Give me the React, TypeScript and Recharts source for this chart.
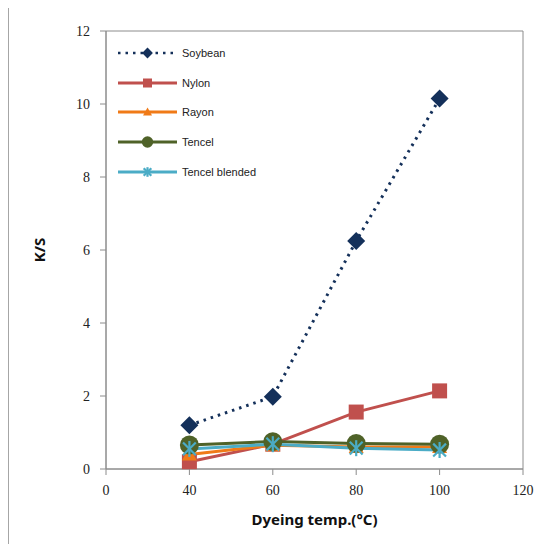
import { LineChart, Line, XAxis, YAxis, Legend, ReferenceArea } from 'recharts';

const temps = [40, 60, 80, 100];
const soybean = [1.2, 1.98, 6.25, 10.15];
const nylon = [0.2, 0.68, 1.56, 2.14];
const rayon = [0.4, 0.65, 0.6, 0.6];
const tencel = [0.66, 0.75, 0.7, 0.68];
const tencelBlended = [0.55, 0.68, 0.57, 0.52];

// the source chart labels its first tick "0" although it sits one step left of 40
const xTicks = [20, 40, 60, 80, 100, 120];
const xTickLabels = ['0', '40', '60', '80', '100', '120'];
const yTicks = [0, 2, 4, 6, 8, 10, 12];

const series = [
  { key: 'soybean', name: 'Soybean', values: soybean, color: '#14305A', marker: 'diamond', dotted: true },
  { key: 'nylon', name: 'Nylon', values: nylon, color: '#C0504D', marker: 'square', dotted: false },
  { key: 'rayon', name: 'Rayon', values: rayon, color: '#F07A17', marker: 'triangle', dotted: false },
  { key: 'tencel', name: 'Tencel', values: tencel, color: '#4F6228', marker: 'circle', dotted: false },
  { key: 'blended', name: 'Tencel blended', values: tencelBlended, color: '#4BACC6', marker: 'star', dotted: false },
];

const data = temps.map((t, i) => {
  const row: Record<string, number> = { temp: t };
  series.forEach((s) => {
    row[s.key] = s.values[i];
  });
  return row;
});

function Marker({ kind, color, cx, cy, s = 1 }: { kind: string; color: string; cx: number; cy: number; s?: number }) {
  if (kind === 'diamond') {
    const r = 9 * s;
    return <polygon points={`${cx},${cy - r} ${cx + r},${cy} ${cx},${cy + r} ${cx - r},${cy}`} fill={color} />;
  }
  if (kind === 'square') {
    const r = 7.5 * s;
    return <rect x={cx - r} y={cy - r} width={2 * r} height={2 * r} fill={color} />;
  }
  if (kind === 'triangle') {
    const r = 7.5 * s;
    return <polygon points={`${cx},${cy - r} ${cx + r},${cy + r * 0.8} ${cx - r},${cy + r * 0.8}`} fill={color} />;
  }
  if (kind === 'circle') {
    return <circle cx={cx} cy={cy} r={9.5 * s} fill={color} />;
  }
  const r = 8 * s;
  const d = r * 0.8;
  return (
    <g stroke={color} strokeWidth={2.2}>
      <line x1={cx} y1={cy - r} x2={cx} y2={cy + r} />
      <line x1={cx - d} y1={cy - d} x2={cx + d} y2={cy + d} />
      <line x1={cx - d} y1={cy + d} x2={cx + d} y2={cy - d} />
    </g>
  );
}

function LegendBox() {
  return (
    <div style={{ fontFamily: 'Liberation Sans, Arial, sans-serif', fontSize: 11, color: '#222' }}>
      {series.map((s) => (
        <div key={s.key} style={{ display: 'flex', alignItems: 'center', height: 29.7 }}>
          <svg width={60} height={16} style={{ display: 'block' }}>
            <line
              x1={0}
              y1={8}
              x2={59}
              y2={8}
              stroke={s.color}
              strokeWidth={s.dotted ? 2.5 : 3}
              strokeDasharray={s.dotted ? '2.5 5' : undefined}
            />
            <Marker kind={s.marker} color={s.color} cx={29.5} cy={8} s={0.6} />
          </svg>
          <span style={{ marginLeft: 4 }}>{s.name}</span>
        </div>
      ))}
    </div>
  );
}

const tickStyle = { fontFamily: 'Liberation Serif, Times New Roman, serif', fontSize: 14, fill: '#222' };
const titleStyle = { fontFamily: 'Noto Sans, sans-serif', fontSize: 15, fontWeight: 700, fill: '#111' };

export default function App() {
  return (
    <div style={{ marginTop: -3, width: 549, borderTop: '1px solid #a6a6a6', borderLeft: '1px solid #a6a6a6' }}>
      <LineChart width={548} height={538} data={data} margin={{ top: 25, right: 34, left: 0, bottom: 15 }}>
        <ReferenceArea x1={20} x2={120} y1={0} y2={12} fill="none" stroke="#8c8c8c" strokeWidth={1} />
        <XAxis
          type="number"
          dataKey="temp"
          domain={[20, 120]}
          ticks={xTicks}
          tickFormatter={(_v: number, i: number) => xTickLabels[i]}
          tick={tickStyle}
          tickLine={{ stroke: '#8c8c8c' }}
          axisLine={{ stroke: '#8c8c8c' }}
          tickSize={6}
          tickMargin={10}
          height={60}
          label={{ value: 'Dyeing temp.(°C)', position: 'insideBottom', offset: 4, style: titleStyle }}
        />
        <YAxis
          type="number"
          domain={[0, 12]}
          ticks={yTicks}
          tick={tickStyle}
          tickLine={{ stroke: '#8c8c8c' }}
          axisLine={{ stroke: '#8c8c8c' }}
          tickSize={6}
          tickMargin={10}
          width={97}
          label={{ value: 'K/S', angle: -90, position: 'insideLeft', offset: 31, style: { ...titleStyle, textAnchor: 'middle' } }}
        />
        <Legend
          layout="vertical"
          align="center"
          verticalAlign="middle"
          content={() => <LegendBox />}
          wrapperStyle={{ left: 109, top: 32, width: 'auto' }}
        />
        {series.map((s) => (
          <Line
            key={s.key}
            dataKey={s.key}
            name={s.name}
            stroke={s.color}
            strokeWidth={3}
            strokeDasharray={s.dotted ? '2.5 5' : undefined}
            isAnimationActive={false}
            dot={(p: any) => <Marker key={`${s.key}-${p.index}`} kind={s.marker} color={s.color} cx={p.cx} cy={p.cy} />}
            activeDot={false}
          />
        ))}
      </LineChart>
    </div>
  );
}
